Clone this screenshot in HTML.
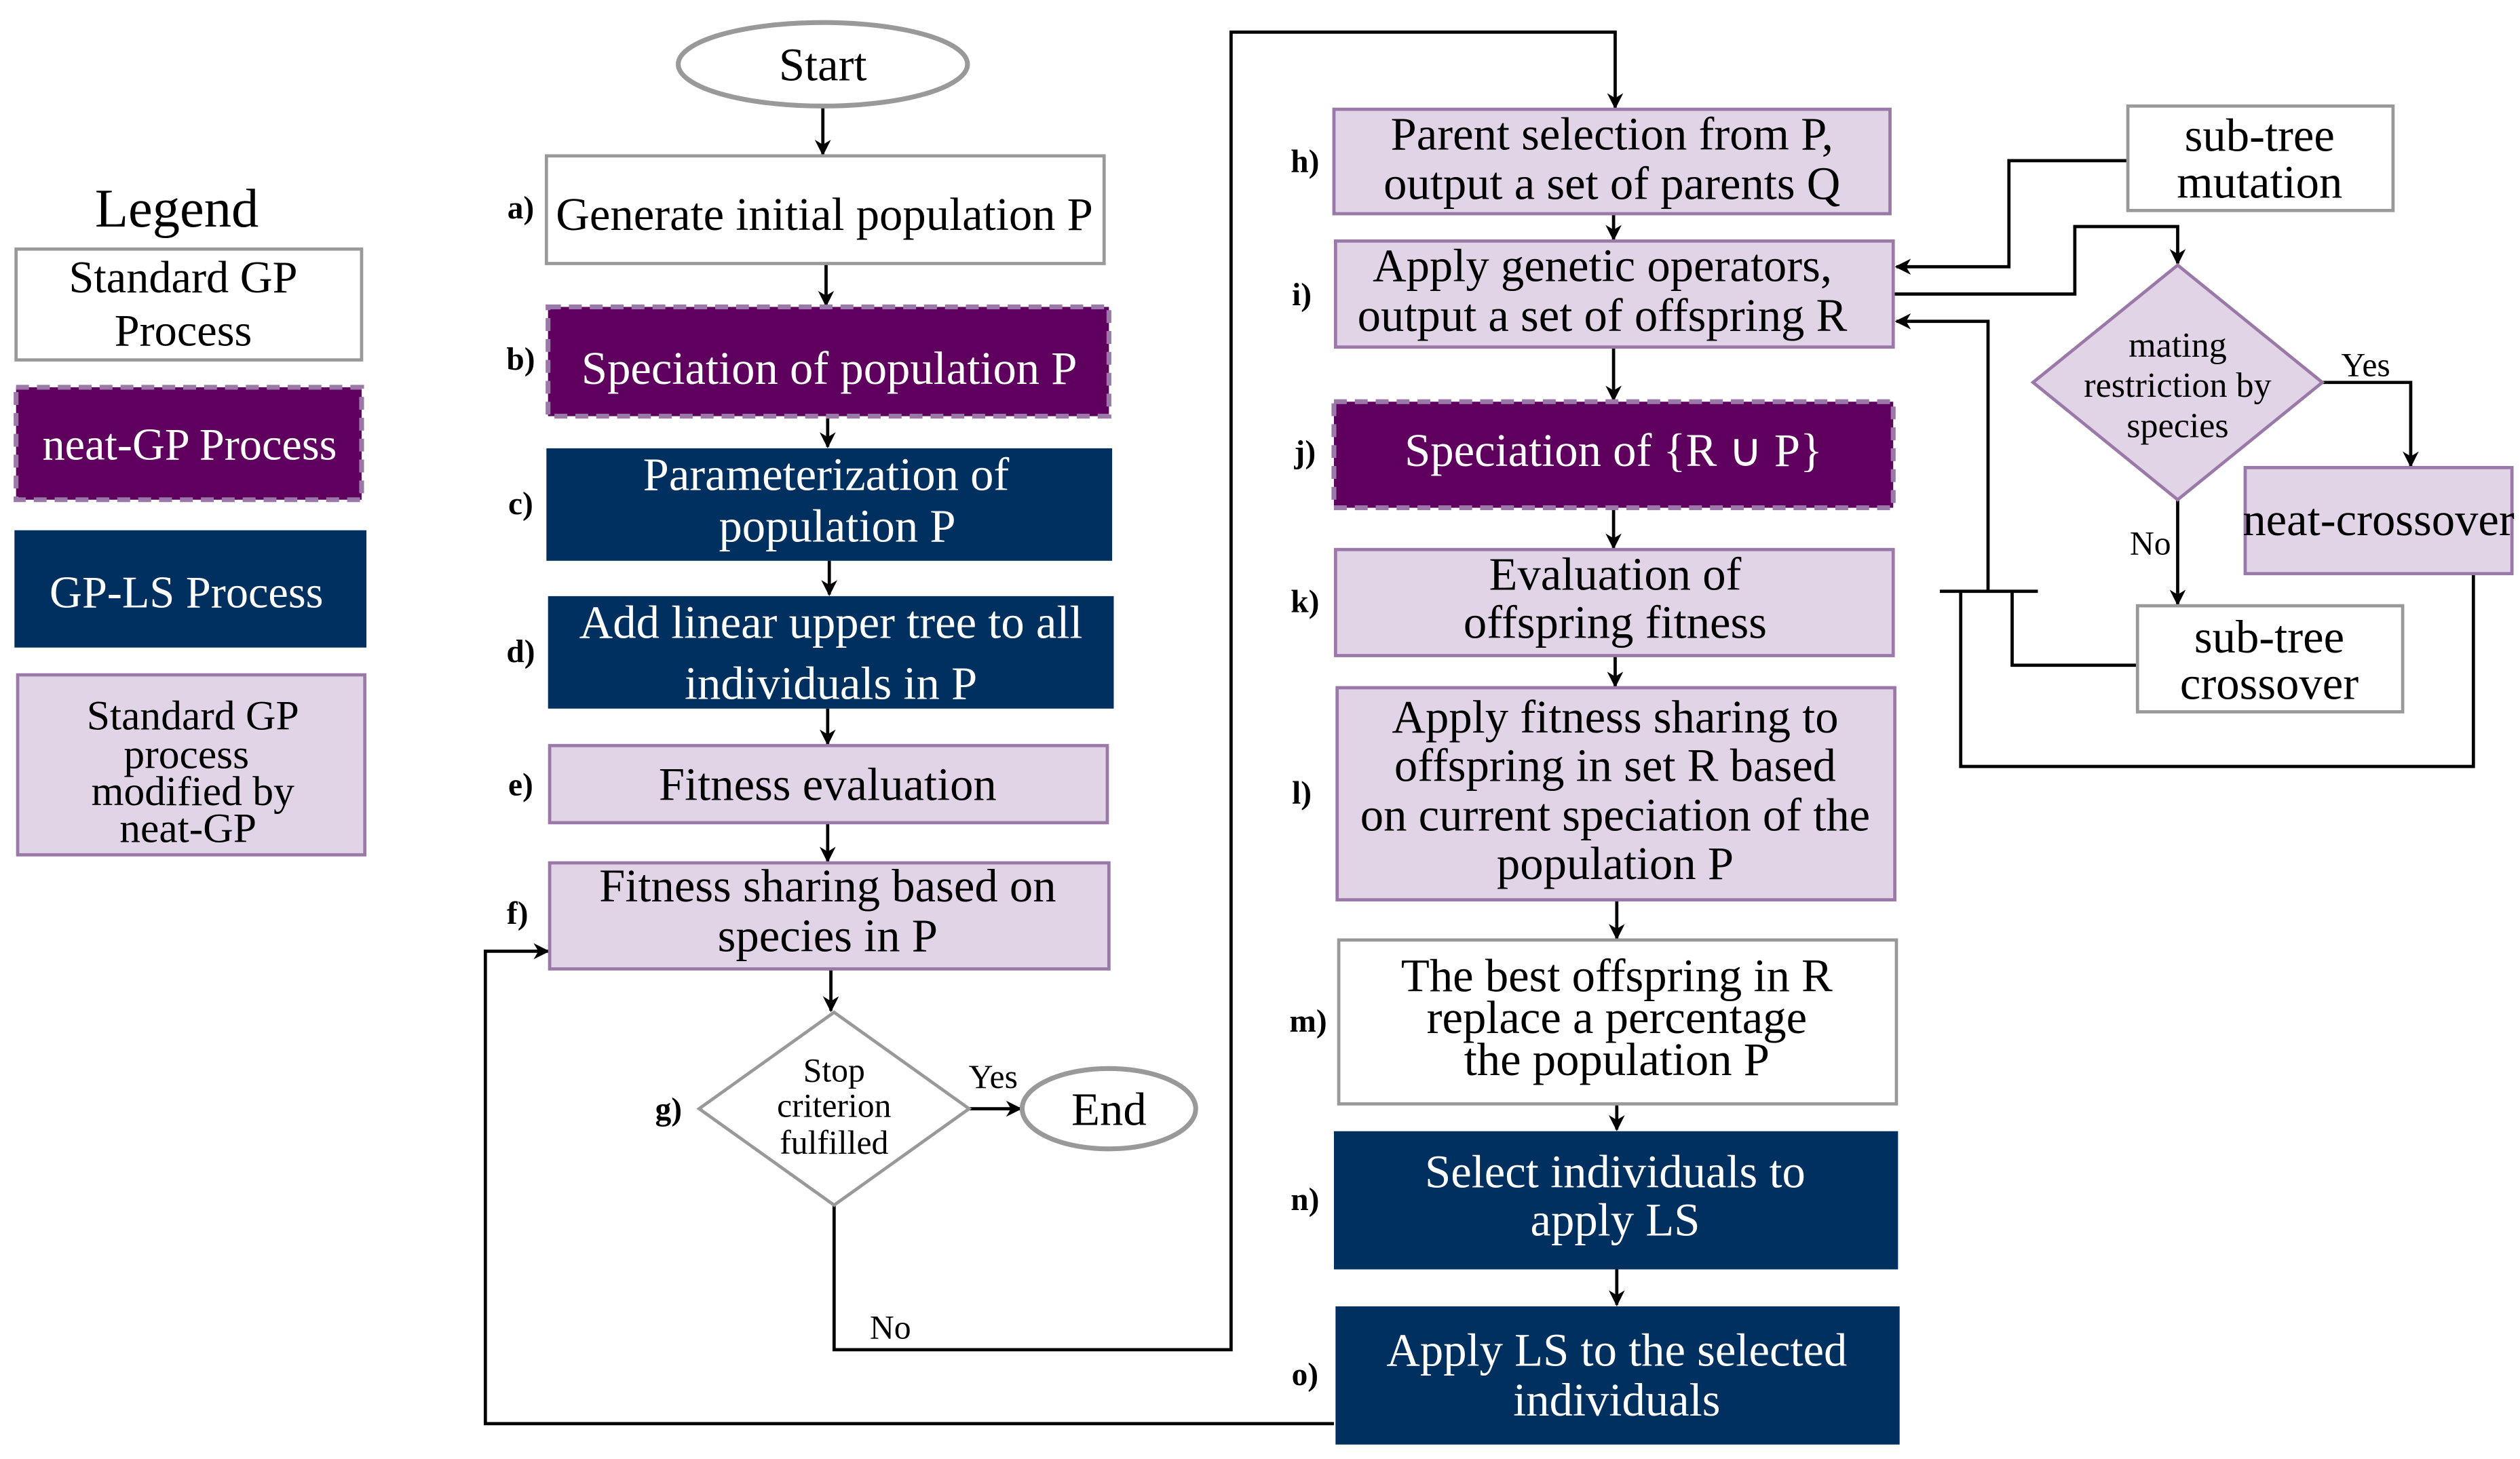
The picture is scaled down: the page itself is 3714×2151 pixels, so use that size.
<!DOCTYPE html>
<html><head><meta charset="utf-8"><style>html,body{margin:0;padding:0;background:#fff}svg{display:block}</style></head>
<body>
<svg width="3714" height="2151" viewBox="0 0 1568 908" preserveAspectRatio="none" xmlns="http://www.w3.org/2000/svg" font-family="'Liberation Serif', serif">
<defs><marker id="a" markerWidth="10" markerHeight="10" refX="9" refY="5" orient="auto" markerUnits="userSpaceOnUse"><path d="M0,0 L10,5 L0,10 L3,5 z" fill="#000"/></marker></defs>
<g fill="none" stroke="#000" stroke-width="2">
<path d="M512,67 V96" marker-end="url(#a)"/>
<path d="M514,164 V190" marker-end="url(#a)"/>
<path d="M515,259 V278" marker-end="url(#a)"/>
<path d="M516,349 V370" marker-end="url(#a)"/>
<path d="M515,441 V463" marker-end="url(#a)"/>
<path d="M515,512 V536" marker-end="url(#a)"/>
<path d="M517,603 V629" marker-end="url(#a)"/>
<path d="M603,690 H635" marker-end="url(#a)"/>
<path d="M519,750 V840 H766 V20 H1005 V67" marker-end="url(#a)"/>
<path d="M830,886 H302 V592 H341" marker-end="url(#a)"/>
<path d="M1004,133 V149" marker-end="url(#a)"/>
<path d="M1004,216 V249" marker-end="url(#a)"/>
<path d="M1004,316 V341" marker-end="url(#a)"/>
<path d="M1005,408 V427" marker-end="url(#a)"/>
<path d="M1006,560 V584" marker-end="url(#a)"/>
<path d="M1006,687 V703" marker-end="url(#a)"/>
<path d="M1006,790 V812" marker-end="url(#a)"/>
<path d="M1324,100 H1250 V166 H1180" marker-end="url(#a)"/>
<path d="M1178,183 H1291 V141 H1355 V164" marker-end="url(#a)"/>
<path d="M1445,238 H1500 V290" marker-end="url(#a)"/>
<path d="M1355,311 V376" marker-end="url(#a)"/>
<path d="M1330,414 H1252 V368"/>
<path d="M1207,368 H1268"/>
<path d="M1237,368 V200 H1180" marker-end="url(#a)"/>
<path d="M1220,368 V477 H1539 V357"/>
</g>
<!-- legend -->
<text x="110" y="141" font-size="34" text-anchor="middle">Legend</text>
<rect x="10" y="155" width="215" height="69" fill="#fff" stroke="#999" stroke-width="2"/>
<rect x="10" y="241" width="215" height="70" fill="#5f005f" stroke="#9a78a8" stroke-width="3" stroke-dasharray="8,5"/>
<rect x="9" y="330" width="219" height="73" fill="#003060"/>
<rect x="11" y="420" width="216" height="112" fill="#e0d4e6" stroke="#9a78a8" stroke-width="2"/>
<g font-size="28" text-anchor="middle">
<text x="114" y="182">Standard GP</text><text x="114" y="215">Process</text>
<text x="118" y="286" fill="#fff">neat-GP Process</text>
<text x="116" y="378" fill="#fff">GP-LS Process</text>
</g>
<g font-size="26" text-anchor="middle">
<text x="120" y="454">Standard GP</text><text x="116" y="478">process</text><text x="120" y="501">modified by</text><text x="117" y="524">neat-GP</text>
</g>
<!-- left column -->
<ellipse cx="512" cy="40" rx="90" ry="26" fill="#fff" stroke="#999" stroke-width="3"/>
<rect x="340" y="97" width="347" height="67" fill="#fff" stroke="#999" stroke-width="2"/>
<rect x="341" y="191" width="349" height="68" fill="#5f005f" stroke="#9a78a8" stroke-width="3" stroke-dasharray="8,5"/>
<rect x="340" y="279" width="352" height="70" fill="#003060"/>
<rect x="341" y="371" width="352" height="70" fill="#003060"/>
<rect x="342" y="464" width="347" height="48" fill="#e0d4e6" stroke="#9a78a8" stroke-width="2"/>
<rect x="342" y="537" width="348" height="66" fill="#e0d4e6" stroke="#9a78a8" stroke-width="2"/>
<path d="M519,630 L603,690 L519,750 L435,690 Z" fill="#fff" stroke="#999" stroke-width="2"/>
<ellipse cx="690" cy="690" rx="54" ry="25" fill="#fff" stroke="#999" stroke-width="3"/>
<g font-size="29" text-anchor="middle">
<text x="512" y="50">Start</text>
<text x="513" y="143">Generate initial population P</text>
<text x="516" y="239" fill="#fff">Speciation of population P</text>
<text x="514" y="305" fill="#fff">Parameterization of</text><text x="521" y="337" fill="#fff">population P</text>
<text x="517" y="397" fill="#fff">Add linear upper tree to all</text><text x="517" y="435" fill="#fff">individuals in P</text>
<text x="515" y="498">Fitness evaluation</text>
<text x="515" y="561">Fitness sharing based on</text><text x="515" y="592">species in P</text>
<text x="690" y="700">End</text>
</g>
<g font-size="21" text-anchor="middle">
<text x="519" y="673">Stop</text><text x="519" y="695">criterion</text><text x="519" y="718">fulfilled</text>
<text x="618" y="677">Yes</text><text x="554" y="833">No</text>
<text x="1472" y="234">Yes</text><text x="1338" y="345">No</text>
</g>
<g font-size="20" font-weight="bold" text-anchor="middle">
<text x="324" y="136">a)</text><text x="324" y="230">b)</text><text x="324" y="320">c)</text><text x="324" y="412">d)</text>
<text x="324" y="495">e)</text><text x="322" y="575">f)</text><text x="416" y="697">g)</text>
<text x="812" y="107">h)</text><text x="810" y="190">i)</text><text x="812" y="288">j)</text><text x="812" y="381">k)</text>
<text x="810" y="500">l)</text><text x="814" y="642">m)</text><text x="812" y="753">n)</text><text x="812" y="862">o)</text>
</g>
<!-- right column -->
<rect x="830" y="68" width="346" height="65" fill="#e0d4e6" stroke="#9a78a8" stroke-width="2"/>
<rect x="831" y="150" width="347" height="66" fill="#e0d4e6" stroke="#9a78a8" stroke-width="2"/>
<rect x="830" y="250" width="348" height="66" fill="#5f005f" stroke="#9a78a8" stroke-width="3" stroke-dasharray="8,5"/>
<rect x="831" y="342" width="347" height="66" fill="#e0d4e6" stroke="#9a78a8" stroke-width="2"/>
<rect x="832" y="428" width="347" height="132" fill="#e0d4e6" stroke="#9a78a8" stroke-width="2"/>
<rect x="833" y="585" width="347" height="102" fill="#fff" stroke="#999" stroke-width="2"/>
<rect x="830" y="704" width="351" height="86" fill="#003060"/>
<rect x="831" y="813" width="351" height="86" fill="#003060"/>
<rect x="1324" y="66" width="165" height="65" fill="#fff" stroke="#999" stroke-width="2"/>
<path d="M1355,165 L1445,238 L1355,311 L1265,238 Z" fill="#e0d4e6" stroke="#9a78a8" stroke-width="2"/>
<rect x="1397" y="291" width="166" height="66" fill="#e0d4e6" stroke="#9a78a8" stroke-width="2"/>
<rect x="1330" y="377" width="165" height="66" fill="#fff" stroke="#999" stroke-width="2"/>
<g font-size="29" text-anchor="middle">
<text x="1003" y="93">Parent selection from P,</text><text x="1003" y="124">output a set of parents Q</text>
<text x="997" y="175">Apply genetic operators,</text><text x="997" y="206">output a set of offspring R</text>
<text x="1004" y="290" fill="#fff">Speciation of {R ∪ P}</text>
<text x="1005" y="367">Evaluation of</text><text x="1005" y="397">offspring fitness</text>
<text x="1005" y="456">Apply fitness sharing to</text><text x="1005" y="486">offspring in set R based</text><text x="1005" y="517">on current speciation of the</text><text x="1005" y="547">population P</text>
<text x="1006" y="617">The best offspring in R</text><text x="1006" y="643">replace a percentage</text><text x="1006" y="669">the population P</text>
<text x="1005" y="739" fill="#fff">Select individuals to</text><text x="1005" y="769" fill="#fff">apply LS</text>
<text x="1006" y="850" fill="#fff">Apply LS to the selected</text><text x="1006" y="881" fill="#fff">individuals</text>
<text x="1406" y="94">sub-tree</text><text x="1406" y="123">mutation</text>
<text x="1480" y="333">neat-crossover</text>
<text x="1412" y="406">sub-tree</text><text x="1412" y="435">crossover</text>
</g>
<g font-size="22" text-anchor="middle">
<text x="1355" y="222">mating</text><text x="1355" y="247">restriction by</text><text x="1355" y="272">species</text>
</g>
</svg>
</body></html>
